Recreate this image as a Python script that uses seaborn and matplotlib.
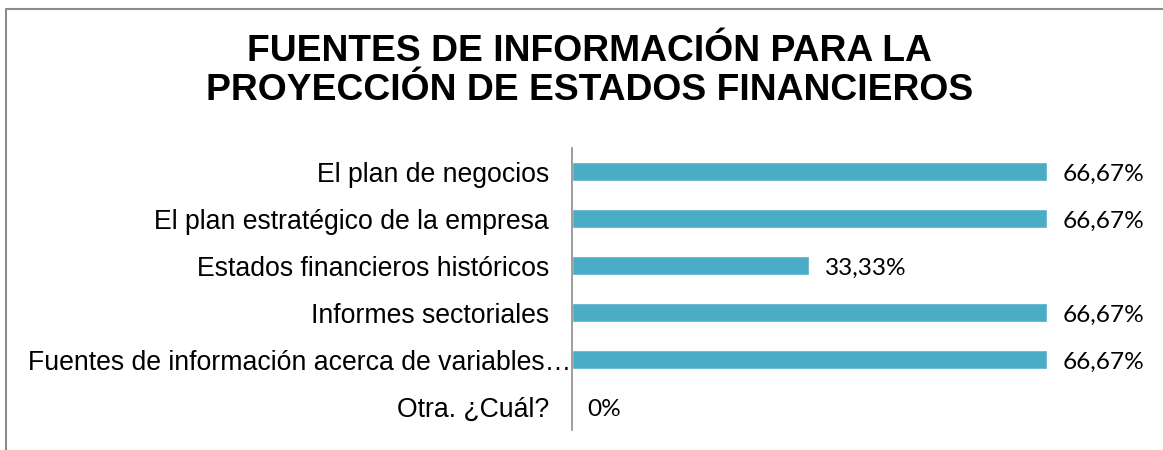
import matplotlib
matplotlib.use("Agg")
import matplotlib.pyplot as plt
import matplotlib.transforms as mtransforms
from matplotlib.lines import Line2D
import seaborn as sns
import pandas as pd

# data
categorias = [
    "El plan de negocios",
    "El plan estratégico de la empresa",
    "Estados financieros históricos",
    "Informes sectoriales",
    "Fuentes de información acerca de variables…",
    "Otra. ¿Cuál?",
]
porcentajes = [66.67, 66.67, 33.33, 66.67, 66.67, 0.0]
etiquetas = ["66,67%", "66,67%", "33,33%", "66,67%", "66,67%", "0%"]

df = pd.DataFrame({"fuente": categorias, "pct": porcentajes})

sns.set_style("white")
plt.rcParams["font.family"] = ["Liberation Sans", "DejaVu Sans"]

fig = plt.figure(figsize=(11.63, 4.5), dpi=100)
ax = fig.add_axes([0.4918, 0.044, 0.498, 0.627])

sns.barplot(data=df, x="pct", y="fuente", orient="h", color="#4BACC6",
            saturation=1, width=0.4, ax=ax)

ax.set_xlim(0, 81.3)
ax.set_ylim(5.5, -0.5)
ax.set_xlabel("")
ax.set_ylabel("")
ax.set_xticks([])
sns.despine(ax=ax, top=True, right=True, bottom=True, left=False)
ax.spines["left"].set_color("#8c8c8c")
ax.spines["left"].set_linewidth(1.2)
ax.tick_params(axis="y", length=0, pad=16.5, labelsize=19.2, labelcolor="#000000")

# the truncated label sits closer to the axis, as in the original
lbl = ax.get_yticklabels()[4]
lbl.set_transform(lbl.get_transform() +
                  mtransforms.ScaledTranslation(22 / 100, 0, fig.dpi_scale_trans))

anns = ax.bar_label(ax.containers[0], labels=etiquetas, padding=11,
                    fontsize=17.6, family=["Lato", "DejaVu Sans"], color="#000000")
# nudge the value labels down a little, as in the original
for t in anns:
    t.xyann = (t.xyann[0], t.xyann[1] - 2)

fig.text(0.507, 0.842, "FUENTES DE INFORMACIÓN PARA LA\nPROYECCIÓN DE ESTADOS FINANCIEROS",
         ha="center", va="center", fontsize=26.8, fontweight="bold",
         linespacing=1.17, color="#000000")

# chart frame (only top and left edges visible in the crop)
fig.add_artist(Line2D([5.5 / 1163, 5.5 / 1163], [0, 1 - 9 / 450],
                      transform=fig.transFigure, color="#8c8c8c", lw=1.5))
fig.add_artist(Line2D([5.5 / 1163, 1], [1 - 9 / 450, 1 - 9 / 450],
                      transform=fig.transFigure, color="#8c8c8c", lw=1.5))

fig.savefig("out.png", dpi=100)
